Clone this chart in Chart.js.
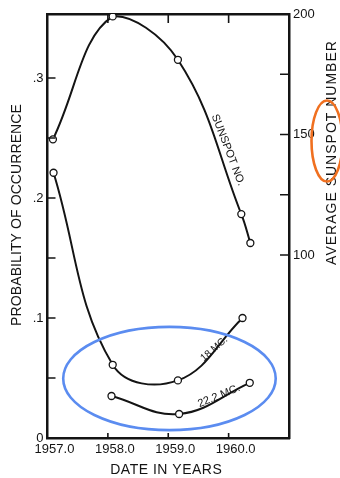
<!DOCTYPE html>
<html>
<head>
<meta charset="utf-8">
<script src="https://cdn.jsdelivr.net/npm/chart.js@4.4.0/dist/chart.umd.min.js"></script>
<style>
  html, body { margin: 0; padding: 0; background: #fff; }
  #wrap { width: 340px; height: 478px; }
</style>
</head>
<body>
<div id="wrap"><canvas id="c" width="340" height="478"></canvas></div>
<script>
(function(){
  // values
  const sunspotYears = [1957.09, 1958.08, 1959.16, 1960.21, 1960.36];
  const sunspotNo    = [148, 199, 181, 117, 105];
  const mc18Years    = [1957.10, 1958.08, 1959.16, 1960.23];
  const mc18Prob     = [0.221, 0.061, 0.048, 0.100];
  const mc22Years    = [1958.06, 1959.18, 1960.35];
  const mc22Prob     = [0.035, 0.020, 0.046];

  const yearTicks  = [1957, 1958, 1959, 1960];
  const probTicks  = [0, 0.05, 0.1, 0.15, 0.2, 0.25, 0.3];
  const probLabels = { 0: '0', 0.1: '.1', 0.2: '.2', 0.3: '.3' };
  const spotTicks  = [100, 125, 150, 175, 200];
  const spotLabels = { 100: '100', 150: '150', 200: '200' };

  const FONT = '"Liberation Sans", Arial, sans-serif';
  const INK = '#141414';

  const pts = (xs, ys) => xs.map((x, i) => ({ x: x, y: ys[i] }));
  const setTicks = list => s => { s.ticks = list.map(v => ({ value: v })); };

  function curve(label, data, yAxisID){
    return {
      label, data, yAxisID, xAxisID: 'x',
      borderColor: INK, borderWidth: 2, tension: 0.4, fill: false,
      pointRadius: 3.5, pointBackgroundColor: '#fff', pointBorderColor: INK, pointBorderWidth: 1.3
    };
  }

  // inward ticks, titles, curve labels, hand-drawn ellipses
  const extras = {
    id: 'extras',
    afterDraw(chart){
      const ctx = chart.ctx, a = chart.chartArea, s = chart.scales;
      ctx.save();
      ctx.strokeStyle = INK; ctx.lineWidth = 1.6;
      ctx.beginPath();
      probTicks.forEach(v => { if(v === 0) return; const y = s.yProb.getPixelForValue(v); ctx.moveTo(a.left, y); ctx.lineTo(a.left + 8, y); });
      spotTicks.forEach(v => { if(v === 200) return; const y = s.ySpot.getPixelForValue(v); ctx.moveTo(a.right, y); ctx.lineTo(a.right - 9, y); });
      yearTicks.forEach(v => { if(v === 1957) return; const x = s.x.getPixelForValue(v);
        ctx.moveTo(x, a.bottom); ctx.lineTo(x, a.bottom - 5);
        ctx.moveTo(x, a.top); ctx.lineTo(x, a.top + 9); });
      ctx.stroke();

      ctx.fillStyle = INK;
      ctx.textAlign = 'center'; ctx.textBaseline = 'middle';
      ctx.font = '14px ' + FONT;
      function title(text, x, y, rot, spacing){
        ctx.save(); ctx.translate(x, y); ctx.rotate(rot);
        ctx.letterSpacing = spacing + 'px';
        ctx.fillText(text, spacing / 2, 0);
        ctx.restore();
      }
      title('DATE IN YEARS', 166, 470, 0, 0.5);
      title('PROBABILITY OF OCCURRENCE', 17, 215, -Math.PI / 2, 0.1);
      title('AVERAGE SUNSPOT NUMBER', 332.5, 153, -Math.PI / 2, 1);

      function tag(text, xv, yv, yScale, deg, size){
        ctx.save();
        ctx.translate(s.x.getPixelForValue(xv), yScale.getPixelForValue(yv));
        ctx.rotate(deg * Math.PI / 180);
        ctx.font = size + 'px ' + FONT;
        ctx.fillText(text, 0, 0);
        ctx.restore();
      }
      tag('SUNSPOT NO.', 1959.99, 143.6, s.ySpot, 69, 11);
      tag('18 MC.', 1959.76, 0.0742, s.yProb, -41, 10);
      tag('22.2 MC.', 1959.84, 0.035, s.yProb, -22, 11);

      // blue ring round the two low curves
      const cx = s.x.getPixelForValue(1959.02), cy = s.yProb.getPixelForValue(0.0496);
      const rx = Math.abs(s.x.getPixelForValue(1959.02 + 1.76) - cx);
      const ry = Math.abs(s.yProb.getPixelForValue(0.0496 + 0.043) - cy);
      ctx.strokeStyle = '#5b8cf0'; ctx.lineWidth = 2.6;
      ctx.beginPath(); ctx.ellipse(cx, cy, rx, ry, 0, 0, Math.PI * 2); ctx.stroke();

      // orange ring round "SUNSPOT" in the right title
      const oy = s.ySpot.getPixelForValue(147.3);
      ctx.strokeStyle = '#f07020';
      ctx.beginPath(); ctx.ellipse(a.right + 38, oy, 15.5, 40.5, 0, 0, Math.PI * 2); ctx.stroke();
      ctx.restore();
    }
  };

  const tickFont = { family: FONT, size: 13 };
  const frame = { display: true, color: INK, width: 2.5 };

  new Chart(document.getElementById('c'), {
    type: 'line',
    data: {
      datasets: [
        curve('SUNSPOT NO.', pts(sunspotYears, sunspotNo), 'ySpot'),
        curve('18 MC.', pts(mc18Years, mc18Prob), 'yProb'),
        curve('22.2 MC.', pts(mc22Years, mc22Prob), 'yProb')
      ]
    },
    options: {
      responsive: false, animation: false,
      layout: { padding: 0 },
      plugins: { legend: { display: false }, tooltip: { enabled: false } },
      scales: {
        x: {
          type: 'linear', position: 'bottom', min: 1957, max: 1961,
          afterBuildTicks: setTicks(yearTicks), afterFit: sc => { sc.height = 40; },
          grid: { display: false, drawTicks: false }, border: frame,
          ticks: { callback: v => v.toFixed(1), font: tickFont, color: INK, padding: 4, labelOffset: 7, maxRotation: 0, autoSkip: false }
        },
        xTop: {
          type: 'linear', position: 'top', min: 1957, max: 1961,
          afterBuildTicks: setTicks(yearTicks), afterFit: sc => { sc.height = 14; },
          grid: { display: false, drawTicks: false }, border: frame,
          ticks: { display: false }
        },
        yProb: {
          type: 'linear', position: 'left', min: 0, max: 0.3533,
          afterBuildTicks: setTicks(probTicks), afterFit: sc => { sc.width = 47.5; },
          grid: { display: false, drawTicks: false }, border: frame,
          ticks: { callback: v => probLabels[v] ?? '', font: tickFont, color: INK, padding: 4, autoSkip: false }
        },
        ySpot: {
          type: 'linear', position: 'right', min: 24.1, max: 200,
          afterBuildTicks: setTicks(spotTicks), afterFit: sc => { sc.width = 51; },
          grid: { display: false, drawTicks: false }, border: frame,
          ticks: { callback: v => spotLabels[v] ?? '', font: tickFont, color: INK, padding: 4, autoSkip: false }
        }
      }
    },
    plugins: [extras]
  });
})();
</script>
</body>
</html>
